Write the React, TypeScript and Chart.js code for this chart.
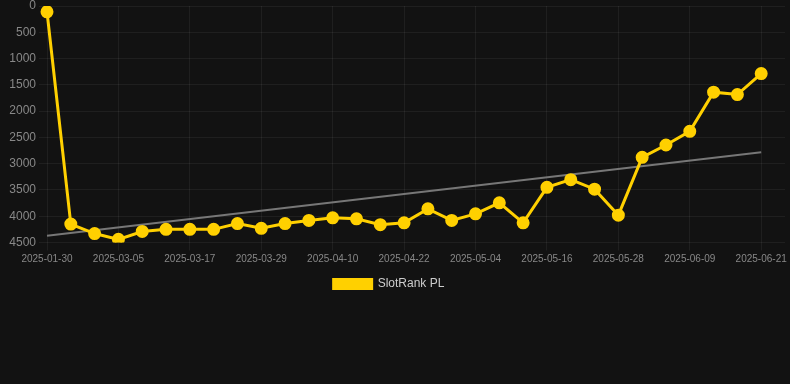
import React, { useEffect, useRef } from "react";
import { Chart, registerables } from "chart.js";

Chart.register(...registerables);

const categories = [
  "2025-01-30", "2025-02-25", "2025-03-01", "2025-03-05", "2025-03-09", "2025-03-13",
  "2025-03-17", "2025-03-21", "2025-03-25", "2025-03-29", "2025-04-02", "2025-04-06",
  "2025-04-10", "2025-04-14", "2025-04-18", "2025-04-22", "2025-04-26", "2025-04-30",
  "2025-05-04", "2025-05-08", "2025-05-12", "2025-05-16", "2025-05-20", "2025-05-24",
  "2025-05-28", "2025-06-01", "2025-06-05", "2025-06-09", "2025-06-13", "2025-06-17",
  "2025-06-21", "2025-06-25",
];

const rankValues: (number | null)[] = [
  110, 4150, 4330, 4440, 4290, 4250, 4250, 4250, 4140, 4230, 4140, 4080,
  4030, 4050, 4160, 4125, 3860, 4080, 3955, 3745, 4125, 3450, 3305, 3485,
  3980, 2880, 2645, 2385, 1640, 1685, 1285, null,
];

const trendStart = 4370;
const trendEnd = 2785;
const trendValues: (number | null)[] = categories.map((_, i) =>
  i === 0 ? trendStart : i === 30 ? trendEnd : null
);

const yTicks = [0, 500, 1000, 1500, 2000, 2500, 3000, 3500, 4000, 4500];

const FONT = "'Liberation Sans', Arial, sans-serif";

const legendShift = {
  id: "legendShift",
  afterLayout(chart: any) {
    if (chart.legend) {
      chart.legend.left -= 6;
      chart.legend.right -= 6;
    }
  },
};

export default function App() {
  const ref = useRef<HTMLCanvasElement | null>(null);

  useEffect(() => {
    document.body.style.margin = "0";
    document.body.style.background = "#121212";
    const ctx = ref.current;
    if (!ctx) return;
    const chart = new Chart(ctx, {
      type: "line",
      data: {
        labels: categories,
        datasets: [
          {
            label: "SlotRank PL",
            data: rankValues,
            borderColor: "#ffd000",
            backgroundColor: "#ffd000",
            borderWidth: 3,
            pointRadius: 5,
            pointHoverRadius: 5,
            pointBackgroundColor: "#ffd000",
            pointBorderColor: "#ffd000",
            tension: 0,
          },
          {
            label: "trend",
            data: trendValues,
            borderColor: "#777777",
            backgroundColor: "#777777",
            borderWidth: 2,
            pointRadius: 0,
            spanGaps: true,
          },
        ],
      },
      plugins: [legendShift],
      options: {
        animation: false,
        responsive: true,
        maintainAspectRatio: false,
        layout: { padding: 0, autoPadding: false },
        plugins: {
          legend: {
            position: "bottom",
            labels: {
              color: "#cccccc",
              boxWidth: 38,
              boxHeight: 9,
              padding: 9.5,
              font: { size: 12, family: FONT },
              filter: (item) => item.text !== "trend",
            },
          },
          tooltip: { enabled: false },
        },
        scales: {
          x: {
            type: "category",
            grid: {
              color: (c: any) => (c.index % 3 === 0 ? "rgba(255,255,255,0.06)" : "rgba(0,0,0,0)"),
            },
            border: { display: false },
            ticks: {
              autoSkip: false,
              maxRotation: 0,
              color: "#888888",
              font: { size: 10, family: FONT },
              callback: (_v: any, i: number) => (i % 3 === 0 && i <= 30 ? categories[i] : ""),
            },
            afterFit: (scale: any) => {
              scale.paddingRight = 5;
              scale.paddingLeft = 0;
            },
          },
          y: {
            reverse: true,
            min: yTicks[0],
            max: yTicks[yTicks.length - 1],
            grid: { color: "rgba(255,255,255,0.06)" },
            border: { display: false },
            ticks: {
              stepSize: 500,
              color: "#888888",
              font: { size: 12, family: FONT },
              callback: (v: any) => String(v),
            },
            afterFit: (scale: any) => {
              scale.width = 47;
              scale.paddingTop = 6;
              scale.paddingBottom = 0;
            },
          },
        },
      },
    });
    return () => chart.destroy();
  }, []);

  return (
    <div style={{ width: 790, height: 300, position: "relative", background: "#121212" }}>
      <canvas ref={ref} />
    </div>
  );
}
